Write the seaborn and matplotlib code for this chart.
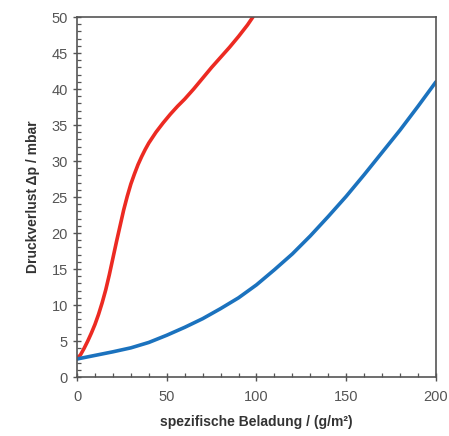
import pandas as pd
import matplotlib
matplotlib.use("Agg")
import matplotlib.pyplot as plt
import seaborn as sns
from matplotlib.ticker import MultipleLocator

# --- Data ---
red_x = [0, 2, 4, 6, 8, 10, 12, 14, 16, 18, 20, 22, 24, 26, 28, 30, 32, 34, 36, 38,
         40, 44, 48, 52, 56, 60, 65, 70, 75, 80, 85, 90, 95, 98]
red_y = [2.5, 3.1, 4.0, 5.0, 6.1, 7.3, 8.7, 10.3, 12.1, 14.2, 16.5, 18.8, 21.0, 23.2,
         25.1, 26.8, 28.2, 29.5, 30.6, 31.6, 32.5, 34.0, 35.3, 36.5, 37.6, 38.6, 40.0,
         41.5, 43.0, 44.4, 45.8, 47.3, 48.9, 50.0]

blue_x = [0, 10, 20, 30, 40, 50, 60, 70, 80, 90, 100, 110, 120, 130, 140, 150, 160,
          170, 180, 190, 200]
blue_y = [2.5, 3.0, 3.5, 4.05, 4.8, 5.8, 6.9, 8.1, 9.5, 11.0, 12.8, 14.9, 17.1, 19.6,
          22.3, 25.1, 28.1, 31.2, 34.3, 37.6, 41.0]

red_df = pd.DataFrame({"x": red_x, "y": red_y})
blue_df = pd.DataFrame({"x": blue_x, "y": blue_y})

sns.set_theme(style="white")
plt.rcParams["font.family"] = ["Liberation Sans", "DejaVu Sans"]

fig = plt.figure(figsize=(4.49, 4.36), dpi=100)
ax = fig.add_axes([0.1715, 0.1353, 0.7995, 0.8257])

sns.lineplot(data=red_df, x="x", y="y", ax=ax, color="#ec2a22", linewidth=2.6, sort=False)
sns.lineplot(data=blue_df, x="x", y="y", ax=ax, color="#1b72be", linewidth=2.6, sort=False)

ax.set_xlim(0, 200)
ax.set_ylim(0, 50)
ax.xaxis.set_major_locator(MultipleLocator(50))
ax.xaxis.set_minor_locator(MultipleLocator(10))
ax.yaxis.set_major_locator(MultipleLocator(5))
ax.yaxis.set_minor_locator(MultipleLocator(1))

ax.tick_params(which="major", direction="inout", length=6, width=1.0, color="#555555",
               labelsize=10.5, labelcolor="#555555", bottom=True, left=True)
ax.tick_params(which="minor", direction="in", length=3, width=0.9, color="#555555",
               bottom=True, left=True)
ax.tick_params(axis="x", pad=6)

for side in ["left", "bottom", "top", "right"]:
    ax.spines[side].set_color("#555555")
    ax.spines[side].set_linewidth(1.2)

ax.set_xlabel("spezifische Beladung / (g/m²)", fontsize=10, fontweight="bold", color="#333333", labelpad=8)
ax.set_ylabel("Druckverlust Δp / mbar", fontsize=10, fontweight="bold", color="#333333", labelpad=8)

fig.savefig("out.png", dpi=100)
